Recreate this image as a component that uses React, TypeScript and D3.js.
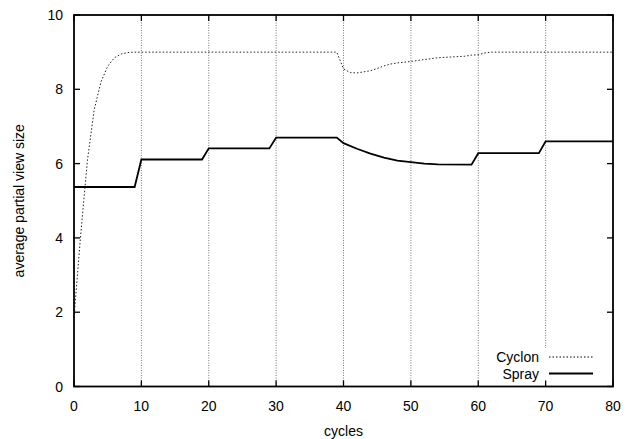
import React, { useEffect, useRef } from 'react'
import * as d3 from 'd3'

const cyclonCycles = [0, 1, 2, 3, 4, 5, 6, 7, 8, 9, 39, 40, 41, 42, 43, 44, 45, 46, 47, 48, 50, 52, 54, 56, 58, 59, 60, 61, 62, 80]
const cyclonValues = [1.85, 4.1, 6.1, 7.45, 8.2, 8.62, 8.85, 8.95, 8.99, 9.0, 9.0, 8.55, 8.45, 8.44, 8.47, 8.5, 8.56, 8.63, 8.68, 8.71, 8.75, 8.8, 8.85, 8.87, 8.89, 8.92, 8.93, 8.98, 9.0, 9.0]

const sprayCycles = [0, 9, 10, 19, 20, 29, 30, 39, 40, 42, 44, 46, 48, 50, 52, 54, 59, 60, 69, 70, 80]
const sprayValues = [5.37, 5.37, 6.11, 6.11, 6.41, 6.41, 6.7, 6.7, 6.55, 6.4, 6.27, 6.16, 6.08, 6.04, 6.0, 5.98, 5.97, 6.28, 6.28, 6.6, 6.6]

const xTicks = [0, 10, 20, 30, 40, 50, 60, 70, 80]
const yTicks = [0, 2, 4, 6, 8, 10]
const gridTicks = [10, 20, 30, 40, 50, 60, 70]

export default function App() {
    const ref = useRef<SVGSVGElement>(null)

    let width = 639, height = 439
    let left = 74, right = 613, top = 15, bottom = 386.5
    let font = 'Liberation Sans, Arial, sans-serif'

    useEffect(() => {
        const svg = d3.select(ref.current)
        svg.selectAll('*').remove()

        const x = d3.scaleLinear().domain([0, 80]).range([left, right])
        const y = d3.scaleLinear().domain([0, 10]).range([bottom, top])

        // vertical dotted grid
        svg.append('g')
            .selectAll('line')
            .data(gridTicks)
            .enter()
            .append('line')
            .attr('x1', d => x(d))
            .attr('x2', d => x(d))
            .attr('y1', top)
            .attr('y2', bottom)
            .attr('stroke', '#555')
            .attr('stroke-width', 0.8)
            .attr('stroke-dasharray', '1,1.5')

        const line = d3.line<[number, number]>()
            .x(d => x(d[0]))
            .y(d => y(d[1]))

        const cyclon: [number, number][] = cyclonCycles.map((c, i) => [c, cyclonValues[i]])
        const spray: [number, number][] = sprayCycles.map((c, i) => [c, sprayValues[i]])

        svg.append('path')
            .attr('d', line(cyclon))
            .attr('fill', 'none')
            .attr('stroke', '#222')
            .attr('stroke-width', 1)
            .attr('stroke-dasharray', '1.5,2')

        svg.append('path')
            .attr('d', line(spray))
            .attr('fill', 'none')
            .attr('stroke', '#000')
            .attr('stroke-width', 1.8)

        // legend box (covers grid)
        svg.append('rect')
            .attr('x', 487)
            .attr('y', 348)
            .attr('width', 112)
            .attr('height', 36)
            .attr('fill', 'white')

        const legend = [
            { name: 'Cyclon', dash: '1.5,2', w: 1, yy: 357 },
            { name: 'Spray', dash: null, w: 1.8, yy: 373.5 },
        ]
        legend.forEach(l => {
            svg.append('text')
                .attr('x', 539)
                .attr('y', l.yy + 5)
                .attr('text-anchor', 'end')
                .style('font-family', font)
                .style('font-size', '14px')
                .text(l.name)
            const s = svg.append('line')
                .attr('x1', 549)
                .attr('x2', 593)
                .attr('y1', l.yy)
                .attr('y2', l.yy)
                .attr('stroke', '#000')
                .attr('stroke-width', l.w)
            if (l.dash) s.attr('stroke-dasharray', l.dash)
        })

        // tick marks
        const ticks = svg.append('g').attr('stroke', '#000').attr('stroke-width', 1.3)
        xTicks.forEach(t => {
            ticks.append('line').attr('x1', x(t)).attr('x2', x(t)).attr('y1', bottom).attr('y2', bottom - 6)
            ticks.append('line').attr('x1', x(t)).attr('x2', x(t)).attr('y1', top).attr('y2', top + 6)
        })
        yTicks.forEach(t => {
            ticks.append('line').attr('x1', left).attr('x2', left + 6).attr('y1', y(t)).attr('y2', y(t))
            ticks.append('line').attr('x1', right).attr('x2', right - 6).attr('y1', y(t)).attr('y2', y(t))
        })

        // border
        svg.append('rect')
            .attr('x', left)
            .attr('y', top)
            .attr('width', right - left)
            .attr('height', bottom - top)
            .attr('fill', 'none')
            .attr('stroke', '#000')
            .attr('stroke-width', 1.8)

        // tick labels
        svg.append('g')
            .selectAll('text')
            .data(xTicks)
            .enter()
            .append('text')
            .attr('x', d => x(d))
            .attr('y', 411)
            .attr('text-anchor', 'middle')
            .style('font-family', font)
            .style('font-size', '14px')
            .text(d => d)

        svg.append('g')
            .selectAll('text')
            .data(yTicks)
            .enter()
            .append('text')
            .attr('x', 63)
            .attr('y', d => y(d) + 5)
            .attr('text-anchor', 'end')
            .style('font-family', font)
            .style('font-size', '14px')
            .text(d => d)

        svg.append('text')
            .attr('x', (left + right) / 2)
            .attr('y', 436)
            .attr('text-anchor', 'middle')
            .style('font-family', font)
            .style('font-size', '14px')
            .text('cycles')

        svg.append('text')
            .attr('transform', 'translate(' + 24 + ', ' + ((top + bottom) / 2) + ') rotate(-90)')
            .attr('text-anchor', 'middle')
            .style('font-family', font)
            .style('font-size', '14px')
            .text('average partial view size')
    }, [])

    return (
        <div style={{ position: 'fixed', left: 0, top: 0 }}>
            <svg ref={ref} width={width} height={height} style={{ display: 'block', background: 'white' }}></svg>
        </div>
    )
}
